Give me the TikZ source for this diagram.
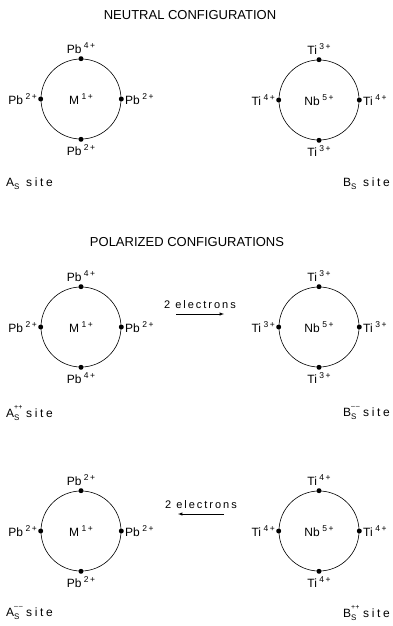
\documentclass[tikz,border=0pt]{standalone}
\usepackage{fontspec}
\setmainfont{Liberation Sans}
\usetikzlibrary{arrows,positioning}
\newcommand{\chg}[2]{#1\kern2.5pt\raisebox{0.85ex}{\fontsize{8.5}{9}\selectfont\addfontfeature{LetterSpace=18}#2}}
\newcommand{\sitename}[2]{#1\rlap{\raisebox{1.3ex}{\fontsize{7}{8}\selectfont#2}}\raisebox{-0.45ex}{\fontsize{8}{9}\selectfont S}\ \ \addfontfeature{LetterSpace=22}site}

\begin{document}
\begin{tikzpicture}[x=1pt,y=-1pt,
    site/.style={circle, draw, line width=0.6pt, minimum size=80pt, inner sep=0pt, font=\fontsize{12}{14}\selectfont},
    ion/.style={circle, fill, inner sep=0pt, minimum size=5pt},
    lbl/.style={inner sep=1pt, font=\fontsize{12}{14}\selectfont},
    heading/.style={inner sep=1pt, font=\fontsize{13}{15}\selectfont},
    elec/.style={-latex, line width=0.5pt}]
  \useasboundingbox (0,0) rectangle (393,626);

  % neutral configuration
  \node[heading] (t1) at (190,15) {NEUTRAL CONFIGURATION};
  \node[site] (A1) at (81,99) {\chg{M}{1+}};
  \node[site] (B1) at (319,100) {\chg{Nb}{5+}};
  \node[ion] (A1n) at (A1.north) {};
  \node[ion] (A1s) at (A1.south) {};
  \node[ion] (A1w) at (A1.west) {};
  \node[ion] (A1e) at (A1.east) {};
  \node[ion] (B1n) at (B1.north) {};
  \node[ion] (B1s) at (B1.south) {};
  \node[ion] (B1w) at (B1.west) {};
  \node[ion] (B1e) at (B1.east) {};
  \node[lbl, above=1pt of A1n] (A1nl) {\chg{Pb}{4+}};
  \node[lbl, below=1pt of A1s] (A1sl) {\chg{Pb}{2+}};
  \node[lbl, left=0pt of A1w] (A1wl) {\chg{Pb}{2+}};
  \node[lbl, right=0pt of A1e] (A1el) {\chg{Pb}{2+}};
  \node[lbl, above=1pt of B1n] (B1nl) {\chg{Ti}{3+}};
  \node[lbl, below=1pt of B1s] (B1sl) {\chg{Ti}{3+}};
  \node[lbl, left=0pt of B1w] (B1wl) {\chg{Ti}{4+}};
  \node[lbl, right=0pt of B1e] (B1el) {\chg{Ti}{4+}};
  \node[lbl, anchor=west] (A1site) at (5,184) {\sitename{A}{}};
  \node[lbl, anchor=east] (B1site) at (391,184) {\sitename{B}{}};

  % polarized configurations
  \node[heading] (t2) at (187,242) {POLARIZED CONFIGURATIONS};
  \node[site] (A2) at (81,327) {\chg{M}{1+}};
  \node[site] (B2) at (319,327) {\chg{Nb}{5+}};
  \node[ion] (A2n) at (A2.north) {};
  \node[ion] (A2s) at (A2.south) {};
  \node[ion] (A2w) at (A2.west) {};
  \node[ion] (A2e) at (A2.east) {};
  \node[ion] (B2n) at (B2.north) {};
  \node[ion] (B2s) at (B2.south) {};
  \node[ion] (B2w) at (B2.west) {};
  \node[ion] (B2e) at (B2.east) {};
  \node[lbl, above=1pt of A2n] (A2nl) {\chg{Pb}{4+}};
  \node[lbl, below=1pt of A2s] (A2sl) {\chg{Pb}{4+}};
  \node[lbl, left=0pt of A2w] (A2wl) {\chg{Pb}{2+}};
  \node[lbl, right=0pt of A2e] (A2el) {\chg{Pb}{2+}};
  \node[lbl, above=1pt of B2n] (B2nl) {\chg{Ti}{3+}};
  \node[lbl, below=1pt of B2s] (B2sl) {\chg{Ti}{3+}};
  \node[lbl, left=0pt of B2w] (B2wl) {\chg{Ti}{3+}};
  \node[lbl, right=0pt of B2e] (B2el) {\chg{Ti}{3+}};
  \node[lbl, anchor=west] (A2site) at (5,413) {\sitename{A}{++}};
  \node[lbl, anchor=east] (B2site) at (391,413) {\sitename{B}{\textendash\kern0.8pt\textendash}};
  \coordinate (e2a) at (176,314);
  \coordinate (e2b) at (224,314);
  \draw[elec] (e2a) -- (e2b) node[lbl, midway, above=4pt, font=\fontsize{11}{13}\selectfont\addfontfeature{LetterSpace=18}] (e2l) {2 electrons};

  \node[site] (A3) at (81,531) {\chg{M}{1+}};
  \node[site] (B3) at (319,531) {\chg{Nb}{5+}};
  \node[ion] (A3n) at (A3.north) {};
  \node[ion] (A3s) at (A3.south) {};
  \node[ion] (A3w) at (A3.west) {};
  \node[ion] (A3e) at (A3.east) {};
  \node[ion] (B3n) at (B3.north) {};
  \node[ion] (B3s) at (B3.south) {};
  \node[ion] (B3w) at (B3.west) {};
  \node[ion] (B3e) at (B3.east) {};
  \node[lbl, above=1pt of A3n] (A3nl) {\chg{Pb}{2+}};
  \node[lbl, below=1pt of A3s] (A3sl) {\chg{Pb}{2+}};
  \node[lbl, left=0pt of A3w] (A3wl) {\chg{Pb}{2+}};
  \node[lbl, right=0pt of A3e] (A3el) {\chg{Pb}{2+}};
  \node[lbl, above=1pt of B3n] (B3nl) {\chg{Ti}{4+}};
  \node[lbl, below=1pt of B3s] (B3sl) {\chg{Ti}{4+}};
  \node[lbl, left=0pt of B3w] (B3wl) {\chg{Ti}{4+}};
  \node[lbl, right=0pt of B3e] (B3el) {\chg{Ti}{4+}};
  \node[lbl, anchor=west] (A3site) at (5,613) {\sitename{A}{\textendash\kern0.8pt\textendash}};
  \node[lbl, anchor=east] (B3site) at (391,613) {\sitename{B}{++}};
  \coordinate (e3a) at (224,514);
  \coordinate (e3b) at (178,514);
  \draw[elec] (e3a) -- (e3b) node[lbl, midway, above=4pt, font=\fontsize{11}{13}\selectfont\addfontfeature{LetterSpace=18}] (e3l) {2 electrons};
\end{tikzpicture}
\end{document}
